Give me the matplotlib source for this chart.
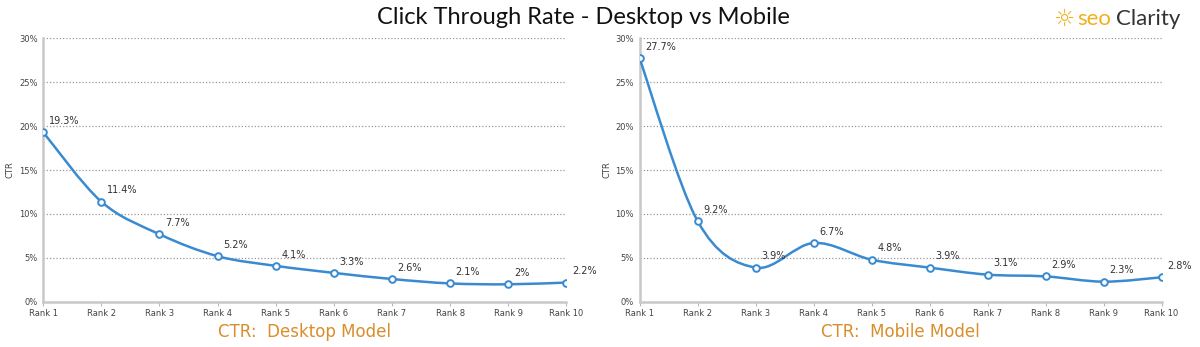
import numpy as np
import matplotlib.pyplot as plt
from matplotlib.path import Path
from matplotlib.patches import PathPatch

ranks = ["Rank %d" % i for i in range(1, 11)]
desktop_ctr = [19.3, 11.4, 7.7, 5.2, 4.1, 3.3, 2.6, 2.1, 2.0, 2.2]
mobile_ctr = [27.7, 9.2, 3.9, 6.7, 4.8, 3.9, 3.1, 2.9, 2.3, 2.8]
y_ticks = [0, 5, 10, 15, 20, 25, 30]

BLUE = "#3a8ad2"
ORANGE = "#d98e2b"


def smooth_path(x, y):
    # Catmull-Rom style bezier through the data points (line style only)
    x = np.asarray(x, float)
    y = np.asarray(y, float)
    pts = np.column_stack([x, y])
    verts = [pts[0]]
    codes = [Path.MOVETO]
    n = len(pts)
    for i in range(n - 1):
        p0 = pts[max(i - 1, 0)]
        p1 = pts[i]
        p2 = pts[i + 1]
        p3 = pts[min(i + 2, n - 1)]
        c1 = p1 + (p2 - p0) / 6.0
        c2 = p2 - (p3 - p1) / 6.0
        verts += [c1, c2, p2]
        codes += [Path.CURVE4] * 3
    return Path(verts, codes)


def label_pct(v):
    return ("%g" % v) + "%"


def draw_panel(ax, values, subtitle):
    x = np.arange(len(ranks))
    ax.add_patch(PathPatch(smooth_path(x, values), fill=False,
                           edgecolor=BLUE, lw=1.8, zorder=3))
    ax.plot(x, values, "o", ms=4.8, mfc="white", mec=BLUE, mew=1.4, zorder=4)
    for xi, v in zip(x, values):
        ax.annotate(label_pct(v), (xi, v), xytext=(4, 6),
                    textcoords="offset points", fontsize=7,
                    color="#333333", zorder=5)
    ax.set_xlim(0, len(ranks) - 1)
    ax.set_ylim(0, 30)
    ax.set_xticks(x)
    ax.set_xticklabels(ranks, fontsize=6, color="#444444")
    ax.set_yticks(y_ticks)
    ax.set_yticklabels([label_pct(t) for t in y_ticks], fontsize=6,
                       color="#444444")
    ax.tick_params(axis="y", length=0, pad=4)
    ax.tick_params(axis="x", length=3, color="#bbbbbb", pad=2)
    for t in y_ticks[1:]:
        ax.axhline(t, color="#999999", lw=0.9, ls=(0, (1, 1.6)), zorder=1)
    for s in ["top", "right"]:
        ax.spines[s].set_visible(False)
    ax.spines["left"].set_color("#c8c8c8")
    ax.spines["left"].set_linewidth(1.8)
    ax.spines["bottom"].set_color("#c8c8c8")
    ax.spines["bottom"].set_linewidth(1.8)
    ax.set_ylabel("CTR", fontsize=6, color="#444444", labelpad=3)
    ax.set_xlabel(subtitle, fontsize=12, color=ORANGE, labelpad=4)


fig = plt.figure(figsize=(12, 3.47), dpi=100)
ax1 = fig.add_axes([0.036, 0.130, 0.436, 0.760])
ax2 = fig.add_axes([0.533, 0.130, 0.435, 0.760])
draw_panel(ax1, desktop_ctr, "CTR:  Desktop Model")
draw_panel(ax2, mobile_ctr, "CTR:  Mobile Model")

fig.text(0.486, 0.95, "Click Through Rate - Desktop vs Mobile",
         ha="center", va="center", fontsize=17, color="#111111",
         family="Lato")
fig.text(0.886, 0.945, "\u263c", ha="center", va="center", fontsize=17,
         color="#f0b01e")
fig.text(0.898, 0.945, "seo", ha="left", va="center", fontsize=16,
         color="#f0b01e", family="Lato")
fig.text(0.930, 0.945, "Clarity", ha="left", va="center", fontsize=16,
         color="#333333", family="Lato")

fig.savefig("out.png", dpi=100, facecolor="white")
